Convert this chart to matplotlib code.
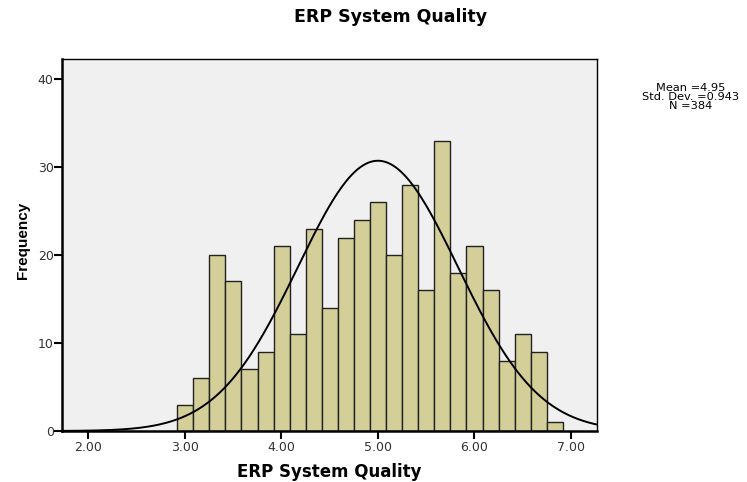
import numpy as np
import matplotlib.pyplot as plt

plt.rcParams['font.family'] = ['DejaVu Sans']

# ----- Data -----
counts = [3, 6, 20, 17, 7, 9, 21, 11, 23, 14, 22, 24,
          26, 20, 28, 16, 33, 18, 21, 16, 8, 11, 9, 1]
first_edge = 2.92
bin_width = 0.1665
n_total = 384
mean_txt = 4.95
sd_txt = 0.943
# normal curve as drawn in the picture
curve_mean = 5.0
curve_sd = 0.83
x_ticks = [2.0, 3.0, 4.0, 5.0, 6.0, 7.0]
y_ticks = [0, 10, 20, 30, 40]

# ----- Plot -----
fig = plt.figure(figsize=(7.47, 4.82), dpi=100)
ax = fig.add_axes([0.083, 0.1058, 0.7162, 0.7718])
ax.set_facecolor('#f0f0f0')

edges = first_edge + bin_width * np.arange(len(counts))
ax.bar(edges, counts, width=bin_width, align='edge',
       color='#d4cf98', edgecolor='#222222', linewidth=1.0, zorder=2)

xs = np.linspace(1.6, 7.4, 400)
ys = n_total * bin_width / (curve_sd * np.sqrt(2 * np.pi)) * \
    np.exp(-0.5 * ((xs - curve_mean) / curve_sd) ** 2)
ax.plot(xs, ys, color='black', linewidth=1.4, zorder=3)

ax.set_xlim(1.726, 7.27)
ax.set_ylim(0, 42.3)
ax.set_xticks(x_ticks)
ax.set_xticklabels(['%.2f' % v for v in x_ticks])
ax.set_yticks(y_ticks)
ax.tick_params(direction='out', length=5.5, width=1.5, labelsize=9,
               labelcolor='#333333')
ax.tick_params(axis='y', pad=0.5)
ax.tick_params(axis='x', pad=1.5)

for side in ['left', 'bottom']:
    ax.spines[side].set_linewidth(1.8)
for side in ['top', 'right']:
    ax.spines[side].set_linewidth(1.0)

ax.set_xlabel('ERP System Quality', fontsize=12, fontweight='bold')
ax.xaxis.label.set_verticalalignment('center')
ax.xaxis.set_label_coords(0.5, -0.110)
ax.set_ylabel('Frequency', fontsize=11, fontweight='bold',
              family='Liberation Sans')
ax.yaxis.label.set_verticalalignment('center')
ax.yaxis.set_label_coords(-0.073, 0.513)

fig.text(0.5228, 0.9647, 'ERP System Quality', fontsize=12.5, fontweight='bold',
         ha='center', va='center')

fig.text(0.925, 0.799, 'Mean =%.2f\nStd. Dev. =%.3f\nN =%d' % (mean_txt, sd_txt, n_total),
         fontsize=8.2, ha='center', va='center', linespacing=0.88)

plt.savefig('out.png', dpi=100)
